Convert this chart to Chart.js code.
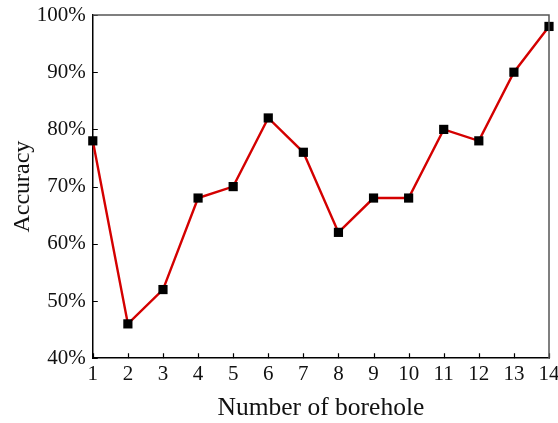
<!DOCTYPE html>
<html>
<head>
<meta charset="utf-8">
<script src="https://cdn.jsdelivr.net/npm/chart.js@4/dist/chart.umd.min.js"></script>
<style>
  html, body { margin: 0; padding: 0; background: #fff; }
  #wrap { width: 558px; height: 423px; }
</style>
</head>
<body>
<div id="wrap"><canvas id="lineChart" width="558" height="423"></canvas></div>
<script>
// データ
const boreholes = [1, 2, 3, 4, 5, 6, 7, 8, 9, 10, 11, 12, 13, 14];
const accuracy = [78, 46, 52, 68, 70, 82, 76, 62, 68, 68, 80, 78, 90, 98];
const yTicks = [40, 50, 60, 70, 80, 90, 100];

// 内向きの目盛りと上・右の枠線
const frameTicks = {
    id: "frameTicks",
    afterDraw(chart) {
        const { ctx, chartArea: a, scales } = chart;
        ctx.save();
        ctx.strokeStyle = "#000";
        ctx.lineWidth = 1.2;
        ctx.beginPath();
        scales.x.ticks.forEach((t) => {
            const px = Math.round(scales.x.getPixelForValue(t.value)) + 0.5;
            ctx.moveTo(px, a.bottom);
            ctx.lineTo(px, a.bottom - 5);
        });
        scales.y.ticks.forEach((t) => {
            const py = Math.round(scales.y.getPixelForValue(t.value)) + 0.5;
            ctx.moveTo(a.left, py);
            ctx.lineTo(a.left + 5, py);
        });
        ctx.stroke();
        ctx.strokeStyle = "#555";
        ctx.lineWidth = 1.5;
        ctx.beginPath();
        ctx.moveTo(a.left, a.top);
        ctx.lineTo(a.right, a.top);
        ctx.lineTo(a.right, a.bottom);
        ctx.stroke();
        ctx.restore();
    },
};

const ctx = document.getElementById("lineChart").getContext("2d");
new Chart(ctx, {
    type: "line",
    data: {
        datasets: [
            {
                label: "Accuracy",
                data: boreholes.map((b, i) => ({ x: b, y: accuracy[i] })),
                borderColor: "#d40000",
                borderWidth: 2.4,
                pointStyle: "rect",
                pointRadius: 6.5,
                pointBackgroundColor: "#000",
                pointBorderColor: "#000",
                pointBorderWidth: 0,
                fill: false,
                tension: 0,
                clip: false,
            },
        ],
    },
    options: {
        responsive: false,
        animation: false,
        layout: { padding: { top: 15, right: 9, left: 8, bottom: -1 } },
        plugins: {
            legend: { display: false },
            tooltip: { enabled: false },
        },
        scales: {
            x: {
                type: "linear",
                min: 1,
                max: 14,
                afterBuildTicks: (scale) => {
                    scale.ticks = boreholes.map((v) => ({ value: v }));
                },
                afterFit: (scale) => {
                    scale.paddingLeft = 0;
                    scale.paddingRight = 0;
                },
                grid: { display: false, drawTicks: false },
                border: { display: true, color: "#000", width: 1.5 },
                ticks: {
                    color: "#111",
                    padding: 4,
                    maxRotation: 0,
                    font: { family: "Liberation Serif", size: 21 },
                },
                title: {
                    display: true,
                    text: "Number of borehole",
                    color: "#111",
                    padding: { top: 2, bottom: 0 },
                    font: { family: "Liberation Serif", size: 25.5 },
                },
            },
            y: {
                min: 40,
                max: 100,
                afterBuildTicks: (scale) => {
                    scale.ticks = yTicks.map((v) => ({ value: v }));
                },
                afterFit: (scale) => {
                    scale.paddingTop = 0;
                    scale.paddingBottom = 0;
                },
                grid: { display: false, drawTicks: false },
                border: { display: true, color: "#000", width: 1.5 },
                ticks: {
                    color: "#111",
                    padding: 7,
                    callback: (v) => v + "%",
                    font: { family: "Liberation Serif", size: 21 },
                },
                title: {
                    display: true,
                    text: "Accuracy",
                    color: "#111",
                    padding: { top: 0, bottom: -7 },
                    font: { family: "Liberation Serif", size: 24 },
                },
            },
        },
    },
    plugins: [frameTicks],
});
</script>
</body>
</html>
